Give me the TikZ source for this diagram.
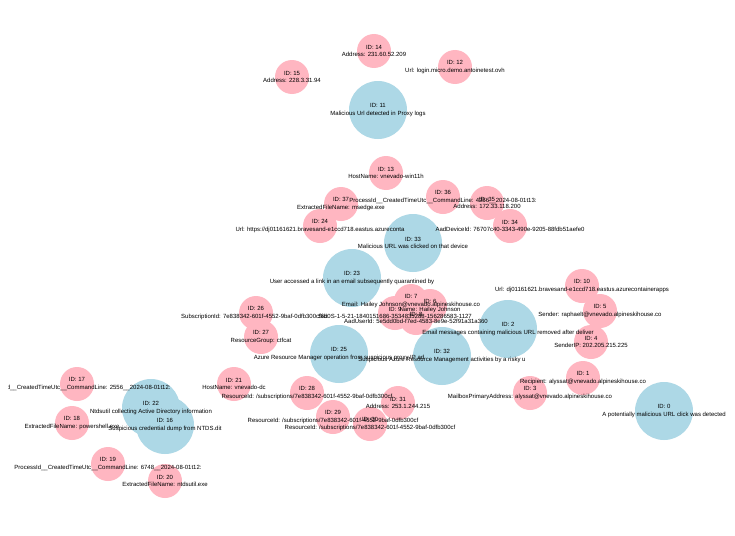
\documentclass[tikz,border=0pt]{standalone}
\usepackage{fontspec}
\setmainfont{Liberation Sans}
\definecolor{alertblue}{HTML}{ADD8E6}
\definecolor{entpink}{HTML}{FFB6C1}
\definecolor{edgegray}{HTML}{D0D0D0}
\pgfdeclarelayer{edges}
\pgfsetlayers{edges,main}
\tikzset{
  alert/.style={circle, fill=alertblue, draw=none, minimum size=58pt, inner sep=0pt},
  entity/.style={circle, fill=entpink, draw=none, minimum size=34pt, inner sep=0pt},
  lbl/.style={font=\fontsize{6}{7.4}\selectfont, align=center, inner sep=0pt, text=black},
  link/.style={draw=edgegray, line width=0.8pt},
}
\begin{document}
\begin{tikzpicture}[x=1pt,y=-1pt]
\useasboundingbox (0,0) rectangle (735,535);
\fill[white] (0,0) rectangle (735,535);
\clip (8,0) rectangle (735,535);
% circles
\node[alert]  (n0)  at (664,411) {};
\node[entity] (n1)  at (583,378) {};
\node[alert]  (n2)  at (508,329) {};
\node[entity] (n3)  at (530,393) {};
\node[entity] (n4)  at (591,342) {};
\node[entity] (n5)  at (600,311) {};
\node[entity] (n6)  at (430,306) {};
\node[entity] (n7)  at (411,301) {};
\node[entity] (n8)  at (416,318) {};
\node[entity] (n9)  at (395,313) {};
\node[entity] (n10) at (582,286) {};
\node[alert]  (n11) at (378,110) {};
\node[entity] (n12) at (455,67) {};
\node[entity] (n13) at (386,173) {};
\node[entity] (n14) at (374,51) {};
\node[entity] (n15) at (292,77) {};
\node[alert]  (n16) at (165,425) {};
\node[entity] (n17) at (77,384) {};
\node[entity] (n18) at (72,423) {};
\node[entity] (n19) at (108,464) {};
\node[entity] (n20) at (165,481) {};
\node[entity] (n21) at (234,384) {};
\node[alert]  (n22) at (151,408) {};
\node[alert]  (n23) at (352,278) {};
\node[entity] (n24) at (320,226) {};
\node[alert]  (n25) at (339,354) {};
\node[entity] (n26) at (256,313) {};
\node[entity] (n27) at (261,337) {};
\node[entity] (n28) at (307,393) {};
\node[entity] (n29) at (333,417) {};
\node[entity] (n30) at (370,424) {};
\node[entity] (n31) at (398,403) {};
\node[alert]  (n32) at (442,356) {};
\node[alert]  (n33) at (413,243) {};
\node[entity] (n34) at (510,226) {};
\node[entity] (n35) at (487,203) {};
\node[entity] (n36) at (443,197) {};
\node[entity] (n37) at (341,204) {};
% edges
\begin{pgfonlayer}{edges}
\foreach \a/\b in {11/14,11/15,11/12,11/13,13/33,33/37,33/36,33/35,33/34,33/24,23/24,
  33/6,33/7,33/8,33/9,23/6,23/7,23/8,23/9,25/6,25/7,25/8,25/9,2/6,2/7,2/8,2/9,
  32/6,32/7,32/8,32/9,2/10,2/5,2/4,2/1,2/3,0/1,32/31,25/31,25/28,25/29,25/30,
  25/26,25/27,25/21,21/22,21/16,17/22,17/16,18/22,18/16,19/22,19/16,20/22,20/16}
  \draw[link] (n\a) -- (n\b);
\end{pgfonlayer}
% labels
\node[lbl] at (n0)  {ID: 0\\A potentially malicious URL click was detected};
\node[lbl] at (n1)  {ID: 1\\Recipient: alyssat@vnevado.alpineskihouse.co};
\node[lbl] at (n2)  {ID: 2\\Email messages containing malicious URL removed after deliver};
\node[lbl] at (n3)  {ID: 3\\MailboxPrimaryAddress: alyssat@vnevado.alpineskihouse.co};
\node[lbl] at (n4)  {ID: 4\\SenderIP: 202.205.215.225};
\node[lbl] at (n5)  {ID: 5\\Sender: raphaelt@vnevado.alpineskihouse.co};
\node[lbl] at (n6)  {ID: 6\\Name: Hailey Johnson};
\node[lbl] at (n7)  {ID: 7\\Email: Hailey Johnson@vnevado.alpineskihouse.co};
\node[lbl] at (n8)  {ID: 8\\AadUserId: 5e5dd0bd-f7ed-4583-8e9e-52f91a31a360};
\node[lbl] at (n9)  {ID: 9\\Sid: S-1-5-21-1840151686-3534835288-156286583-1127};
\node[lbl] at (n10) {ID: 10\\Url: dj01161621.bravesand-e1ccd718.eastus.azurecontainerapps};
\node[lbl] at (n11) {ID: 11\\Malicious Url detected in Proxy logs};
\node[lbl] at (n12) {ID: 12\\Url: login.micro.demo.antoinetest.ovh};
\node[lbl] at (n13) {ID: 13\\HostName: vnevado-win11h};
\node[lbl] at (n14) {ID: 14\\Address: 231.60.52.209};
\node[lbl] at (n15) {ID: 15\\Address: 228.3.31.94};
\node[lbl] at (n16) {ID: 16\\Suspicious credential dump from NTDS.dit};
\node[lbl] at (n17) {ID: 17\\ProcessId\_\_CreatedTimeUtc\_\_CommandLine: 2556\_\_2024-08-01t12:};
\node[lbl] at (n18) {ID: 18\\ExtractedFileName: powershell.exe};
\node[lbl] at (n19) {ID: 19\\ProcessId\_\_CreatedTimeUtc\_\_CommandLine: 6748\_\_2024-08-01t12:};
\node[lbl] at (n20) {ID: 20\\ExtractedFileName: ntdsutil.exe};
\node[lbl] at (n21) {ID: 21\\HostName: vnevado-dc};
\node[lbl] at (n22) {ID: 22\\Ntdsutil collecting Active Directory information};
\node[lbl] at (n23) {ID: 23\\User accessed a link in an email subsequently quarantined by};
\node[lbl] at (n24) {ID: 24\\Url: https://dj01161621.bravesand-e1ccd718.eastus.azureconta};
\node[lbl] at (n25) {ID: 25\\Azure Resource Manager operation from suspicious proxy IP ad};
\node[lbl] at (n26) {ID: 26\\SubscriptionId: 7e838342-601f-4552-9baf-0dfb300cf6b0};
\node[lbl] at (n27) {ID: 27\\ResourceGroup: ctfcat};
\node[lbl] at (n28) {ID: 28\\ResourceId: /subscriptions/7e838342-601f-4552-9baf-0dfb300cf};
\node[lbl] at (n29) {ID: 29\\ResourceId: /subscriptions/7e838342-601f-4552-9baf-0dfb300cf};
\node[lbl] at (n30) {ID: 30\\ResourceId: /subscriptions/7e838342-601f-4552-9baf-0dfb300cf};
\node[lbl] at (n31) {ID: 31\\Address: 253.1.244.215};
\node[lbl] at (n32) {ID: 32\\Suspicious Azure Resource Management activities by a risky u};
\node[lbl] at (n33) {ID: 33\\Malicious URL was clicked on that device};
\node[lbl] at (n34) {ID: 34\\AadDeviceId: 76707c40-3343-490e-9205-88fdb51aefe0};
\node[lbl] at (n35) {ID: 35\\Address: 172.33.118.200};
\node[lbl] at (n36) {ID: 36\\ProcessId\_\_CreatedTimeUtc\_\_CommandLine: 4256\_\_2024-08-01t13:};
\node[lbl] at (n37) {ID: 37\\ExtractedFileName: msedge.exe};
\end{tikzpicture}
\end{document}
